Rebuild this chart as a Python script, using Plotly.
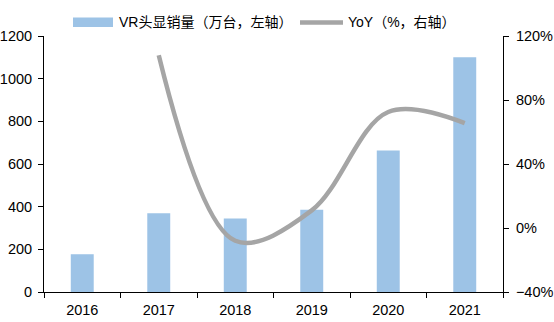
import plotly.graph_objects as go

years = ["2016", "2017", "2018", "2019", "2020", "2021"]
shipments = [177, 369, 344, 386, 663, 1100]          # 万台
yoy_years = ["2017", "2018", "2019", "2020", "2021"]
yoy_pct = [108, -8, 11, 72.5, 65.5]                  # %

bar_name = "VR头显销量（万台，左轴）"
line_name = "YoY（%，右轴）"

BAR_COLOR = "#9DC3E6"
LINE_COLOR = "#A5A5A5"
FONT = "Liberation Sans, Arial, Noto Sans CJK SC, sans-serif"

fig = go.Figure()
fig.add_trace(go.Bar(
    x=years, y=shipments, name=bar_name,
    marker=dict(color=BAR_COLOR, line=dict(width=0)),
    width=0.3, yaxis="y", showlegend=False,
))
fig.add_trace(go.Scatter(
    x=yoy_years, y=yoy_pct, name=line_name, mode="lines",
    line=dict(color=LINE_COLOR, width=4.5, shape="spline", smoothing=1.0),
    yaxis="y2", showlegend=False,
))

axis_common = dict(
    showgrid=False, zeroline=False, showline=True, linecolor="black",
    linewidth=1, ticks="outside", ticklen=5, tickcolor="black",
    tickfont=dict(family=FONT, size=14.5, color="black"),
    automargin=False,
)

fig.update_layout(
    width=554, height=322,
    margin=dict(l=44, r=51, t=36, b=30),
    paper_bgcolor="white", plot_bgcolor="white",
    font=dict(family=FONT, size=14, color="black"),
    xaxis=dict(**axis_common, type="category", tickson="boundaries",
               range=[-0.5, 5.5], ticklabelstandoff=5),
    yaxis=dict(**axis_common, range=[0, 1200], dtick=200,
               ticklabelstandoff=3),
    yaxis2=dict(**axis_common, overlaying="y", side="right",
                range=[-40, 120], dtick=40, ticksuffix="%",
                ticklabelstandoff=4),
)

# Legend drawn as swatches + labels above the plot area
W, H = 459.0, 256.0
def px_x(v):
    return (v - 44) / W
def px_y(v):
    return (292 - v) / H

fig.add_shape(type="rect", xref="paper", yref="paper",
              x0=px_x(73), x1=px_x(113), y0=px_y(27), y1=px_y(17.5),
              fillcolor=BAR_COLOR, line=dict(width=0))
fig.add_annotation(xref="paper", yref="paper", x=px_x(117), y=px_y(22),
                   text=bar_name, showarrow=False, xanchor="left",
                   yanchor="middle", font=dict(family=FONT, size=14))
fig.add_shape(type="line", xref="paper", yref="paper",
              x0=px_x(300), x1=px_x(343), y0=px_y(22.5), y1=px_y(22.5),
              line=dict(color=LINE_COLOR, width=4.5))
fig.add_annotation(xref="paper", yref="paper", x=px_x(346), y=px_y(22),
                   text=line_name, showarrow=False, xanchor="left",
                   yanchor="middle", font=dict(family=FONT, size=14))

fig.write_html("out.html")
